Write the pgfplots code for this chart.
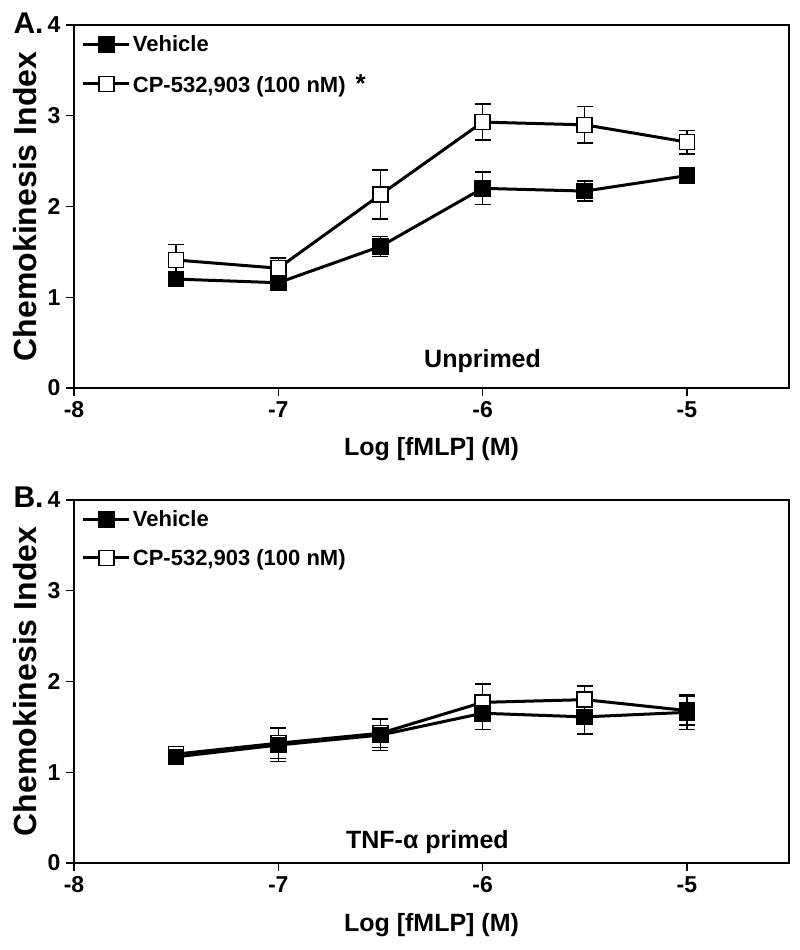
\documentclass[border=0pt]{standalone}
\usepackage{fontspec}
\setmainfont{Liberation Sans}
\usepackage{pgfplots}
\pgfplotsset{compat=1.18}
\pgfplotstableread{
x y e
-7.5 1.20 0.05
-7.0 1.16 0.05
-6.5 1.56 0.11
-6.0 2.20 0.18
-5.5 2.17 0.11
-5.0 2.34 0.04
}\topveh
\pgfplotstableread{
x y e
-7.5 1.41 0.17
-7.0 1.32 0.11
-6.5 2.13 0.27
-6.0 2.93 0.20
-5.5 2.90 0.20
-5.0 2.71 0.13
}\topcp
\pgfplotstableread{
x y e
-7.5 1.17 0.07
-7.0 1.30 0.18
-6.5 1.41 0.17
-6.0 1.65 0.18
-5.5 1.61 0.19
-5.0 1.66 0.19
}\botveh
\pgfplotstableread{
x y e
-7.5 1.20 0.08
-7.0 1.32 0.17
-6.5 1.43 0.16
-6.0 1.77 0.20
-5.5 1.80 0.15
-5.0 1.68 0.16
}\botcp
\newcommand\tlfont{\bfseries\fontsize{23}{27}\selectfont}
\begin{document}
\begin{tikzpicture}
\useasboundingbox (0,0) rectangle (800pt,950pt);
\pgfplotsset{
 panel/.style={
  at={(74pt,#1)}, anchor=south west, scale only axis, width=715pt, height=363pt,
  xmin=-8, xmax=-4.5, ymin=0, ymax=4,
  xtick={-8,-7,-6,-5}, ytick={0,1,2,3,4},
  tick align=outside, tick pos=left, major tick length=8pt,
  axis line style={line width=1.4pt},
  every tick/.style={line width=1.4pt, black},
  /pgf/number format/assume math mode=true,
  every tick label/.append style={font=\tlfont},
  xticklabels={-8,-7,-6,-5},
  yticklabels={0,1,2,3,4},
  yticklabel style={xshift=-2pt},
  xticklabel style={yshift=-2pt},
  xlabel={Log [fMLP] (M)}, ylabel={Chemokinesis Index},
  xlabel style={font=\bfseries\fontsize{25}{30}\selectfont, at={(axis description cs:0.5,0)}, anchor=base, yshift=-68pt},
  ylabel style={font=\bfseries\fontsize{32}{36}\selectfont, at={(axis description cs:-0.0685,0.5)}, anchor=center},
  legend style={at={(axis description cs:0.008,0.982)}, anchor=north west, draw=none, fill=none,
    font=\bfseries\fontsize{22}{26}\selectfont, row sep=17pt, inner sep=2pt,
    /tikz/every even column/.append style={column sep=6pt}},
  legend cell align=left,
  legend image code/.code={\draw[mark repeat=2,mark phase=2] plot coordinates {(0pt,0pt) (23pt,0pt) (46pt,0pt)};},
 },
 ser/.style={black, line width=3pt, mark=square*, mark size=7.5pt,
   mark options={line width=1.5pt, draw=black, fill=#1, solid},
   error bars/y dir=both, error bars/y explicit,
   error bars/error bar style={line width=1.5pt, black},
   error bars/error mark options={rotate=90, mark size=8pt, line width=1.5pt, black}},
}
\begin{axis}[panel=562pt]
\addplot+[ser=black] table[x=x, y=y, y error=e] {\topveh};
\addlegendentry{Vehicle}
\addplot+[ser=white] table[x=x, y=y, y error=e] {\topcp};
\addlegendentry{CP-532,903 (100 nM)\hspace{0.45em}{\fontsize{26}{26}\selectfont*}}
\node[font=\bfseries\fontsize{25}{30}\selectfont] at (axis cs:-6,0.3) {Unprimed};
\end{axis}
\begin{axis}[panel=87pt]
\addplot+[forget plot, ser=white] table[x=x, y=y, y error=e] {\botcp};
\addplot+[ser=black] table[x=x, y=y, y error=e] {\botveh};
\addlegendentry{Vehicle}
\addlegendimage{black, line width=3pt, mark=square*, mark size=7.5pt, mark options={line width=1.5pt, draw=black, fill=white, solid}}
\addlegendentry{CP-532,903 (100 nM)}
\node[font=\bfseries\fontsize{25}{30}\selectfont] at (axis cs:-6.27,0.23) {TNF-α primed};
\end{axis}
\node[font=\bfseries\fontsize{30}{34}\selectfont, anchor=west] at (10pt,927pt) {A.};
\node[font=\bfseries\fontsize{30}{34}\selectfont, anchor=west] at (10pt,453pt) {B.};
\end{tikzpicture}
\end{document}
